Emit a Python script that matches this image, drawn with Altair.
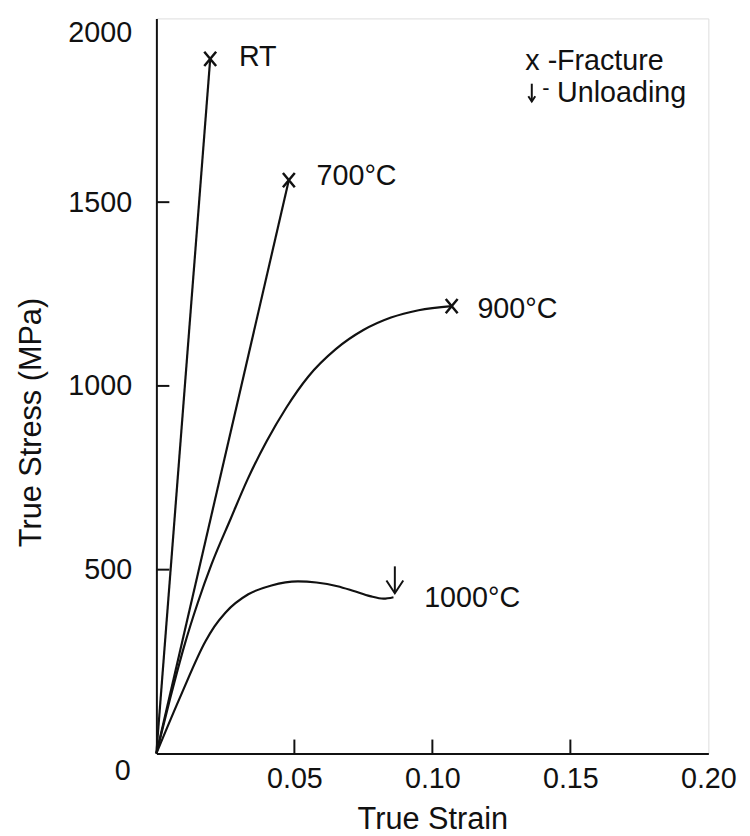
import altair as alt
import pandas as pd

# ---------------- data ----------------
series_names = ["RT", "700°C", "900°C", "1000°C"]

rt_strain = [0.0, 0.0195]
rt_stress = [0, 1890]

s700_strain = [0.0, 0.048]
s700_stress = [0, 1560]

s900_strain = [0.0, 0.005, 0.010, 0.015, 0.020, 0.027, 0.033, 0.040, 0.047,
               0.055, 0.065, 0.075, 0.085, 0.095, 0.107]
s900_stress = [0, 150, 290, 410, 515, 640, 745, 850, 940,
               1025, 1100, 1152, 1186, 1206, 1217]

s1000_strain = [0.0, 0.009, 0.0178, 0.021, 0.025, 0.0333, 0.0417, 0.0513,
                0.058, 0.0656, 0.0715, 0.0774, 0.0823, 0.0859]
s1000_stress = [0, 160, 305, 345, 383, 433, 457, 468,
                465, 455, 442, 428, 421, 425]

fracture_series = ["RT", "700°C", "900°C"]
unload_strain = [0.0864]
unload_top = [509]
unload_tip = [436]

x_label_values = [0.05, 0.10, 0.15, 0.20]
y_label_values = [500, 1000, 1500, 2000]
x_inner_ticks = [0.05, 0.10, 0.15]
y_inner_ticks = [500, 1000, 1500]

legend_words = ["Fracture", "Unloading"]

# ---------------- build tables ----------------
strains = [rt_strain, s700_strain, s900_strain, s1000_strain]
stresses = [rt_stress, s700_stress, s900_stress, s1000_stress]
rows = []
for name, xs, ys in zip(series_names, strains, stresses):
    for i, (a, b) in enumerate(zip(xs, ys)):
        rows.append({"series": name, "idx": i, "strain": a, "stress": b})
curves = pd.DataFrame(rows)
ends = curves.sort_values("idx").groupby("series", sort=False).tail(1)
fract = ends[ends["series"].isin(fracture_series)]

W, H = 558, 743
FONT = "Liberation Sans"
INK = "#111111"
TICK_LEN_STRESS = 37.7    # ~14 px inward tick
TICK_LEN_STRAIN = 0.0047  # ~13 px inward tick

tick_rows = []
for k, t in enumerate(x_inner_ticks):
    tick_rows.append({"tick": f"x{k}", "idx": 0, "strain": t, "stress": 0.0})
    tick_rows.append({"tick": f"x{k}", "idx": 1, "strain": t, "stress": TICK_LEN_STRESS})
for k, t in enumerate(y_inner_ticks):
    tick_rows.append({"tick": f"y{k}", "idx": 0, "strain": 0.0, "stress": t})
    tick_rows.append({"tick": f"y{k}", "idx": 1, "strain": TICK_LEN_STRAIN, "stress": t})
ticks = pd.DataFrame(tick_rows)

xscale = alt.Scale(domain=[0, 0.2], nice=False, zero=True)
yscale = alt.Scale(domain=[0, 2000], nice=False, zero=True)
xaxis = alt.Axis(values=x_label_values, format=".2f", ticks=False, tickSize=0,
                 grid=False, labelFlush=False, labelPadding=11,
                 domainColor=INK, domainWidth=2, labelFontSize=29,
                 labelFont=FONT, labelColor=INK, titleFont=FONT,
                 titleFontSize=31, titleFontWeight="normal", titleColor=INK,
                 titlePadding=12)
yaxis = alt.Axis(values=y_label_values, format="d", ticks=False, tickSize=0,
                 grid=False, labelFlush=True, labelPadding=25, domainColor=INK,
                 domainWidth=2, labelFontSize=29, labelFont=FONT,
                 labelColor=INK, titleFont=FONT, titleFontSize=31,
                 titleFontWeight="normal", titleColor=INK,
                 titleX=-110, titleY=408)

X = alt.X("strain:Q", scale=xscale, axis=xaxis, title="True Strain")
Y = alt.Y("stress:Q", scale=yscale, axis=yaxis, title="True Stress (MPa)")

lines = alt.Chart(curves).mark_line(color=INK, strokeWidth=2.2,
                                    interpolate="monotone").encode(
    x=X, y=Y, detail="series:N", order="idx:Q")

tick_layer = alt.Chart(ticks).mark_line(color=INK, strokeWidth=2).encode(
    x=X, y=Y, detail="tick:N", order="idx:Q")

xmark = "M-1,-1.2L1,1.2M-1,1.2L1,-1.2"
fr = alt.Chart(fract).mark_point(shape=xmark, size=144, filled=False,
                                 stroke=INK, strokeWidth=2.5, opacity=1).encode(x=X, y=Y)

unload = pd.DataFrame({"strain": unload_strain, "stress": unload_top,
                       "stress2": unload_tip})
arrow_stem = alt.Chart(unload).mark_rule(color=INK, strokeWidth=2).encode(
    x=X, y=Y, y2="stress2:Q")
tip = pd.DataFrame({"strain": unload_strain, "stress": unload_tip})
arrow_head = alt.Chart(tip).mark_point(shape="M-1,-1.5L0,0L1,-1.5", size=289,
                                       filled=False, stroke=INK, strokeWidth=2,
                                       opacity=1).encode(x=X, y=Y)

label_offsets = {"RT": (29, -2), "700°C": (28, -4), "900°C": (26, 3),
                 "1000°C": (31, 1)}
labels = []
for name in series_names:
    d = ends[ends["series"] == name]
    dx, dy = label_offsets[name]
    labels.append(alt.Chart(d).mark_text(align="left", baseline="middle",
                                         dx=dx, dy=dy, font=FONT, fontSize=29,
                                         color=INK).encode(x=X, y=Y, text="series:N"))

origin = alt.Chart(pd.DataFrame({"strain": [0.0], "stress": [0], "t": ["0"]})).mark_text(
    align="center", baseline="middle", dx=-34, dy=18, font=FONT, fontSize=29,
    color=INK).encode(x=X, y=Y, text="t:N")

leg = pd.DataFrame({"word": legend_words, "row": [0, 1]})
leg_base = alt.Chart(leg).transform_calculate(py="43.5 + 32.5 * datum.row")
leg_word = leg_base.mark_text(align="left", baseline="middle", font=FONT,
                              fontSize=29, color=INK).encode(
    x=alt.value(405), y=alt.Y("py:Q", scale=None), text="word:N")
leg_x = leg_base.transform_filter("datum.row == 0").mark_text(
    align="left", baseline="middle", font=FONT, fontSize=29, color=INK).encode(
    x=alt.value(373), y=alt.Y("py:Q", scale=None), text=alt.value("x -"))
leg_dash = leg_base.transform_filter("datum.row == 1").mark_text(
    align="left", baseline="middle", font=FONT, fontSize=22, color=INK,
    dy=-6).encode(x=alt.value(390), y=alt.Y("py:Q", scale=None), text=alt.value("-"))
leg_stem = leg_base.transform_filter("datum.row == 1").transform_calculate(
    py1="datum.py - 10", py2="datum.py + 8").mark_rule(
    color=INK, strokeWidth=2).encode(
    x=alt.value(379.5), y=alt.Y("py1:Q", scale=None), y2="py2:Q")
leg_head = leg_base.transform_filter("datum.row == 1").transform_calculate(
    pyt="datum.py + 8").mark_point(shape="M-1,-1.5L0,0L1,-1.5", size=49,
                                   filled=False, stroke=INK, strokeWidth=2,
                                   opacity=1).encode(
    x=alt.value(379.5), y=alt.Y("pyt:Q", scale=None))

chart = alt.layer(lines, tick_layer, fr, arrow_stem, arrow_head, *labels, origin,
                  leg_word, leg_x, leg_dash, leg_stem, leg_head).properties(
    width=W, height=H,
    padding={"left": 8, "top": 6, "right": 5, "bottom": 0},
).configure_view(stroke=INK, strokeWidth=2).configure(background="white")

chart.save("out.html", embed_options={"renderer": "svg", "actions": False})
